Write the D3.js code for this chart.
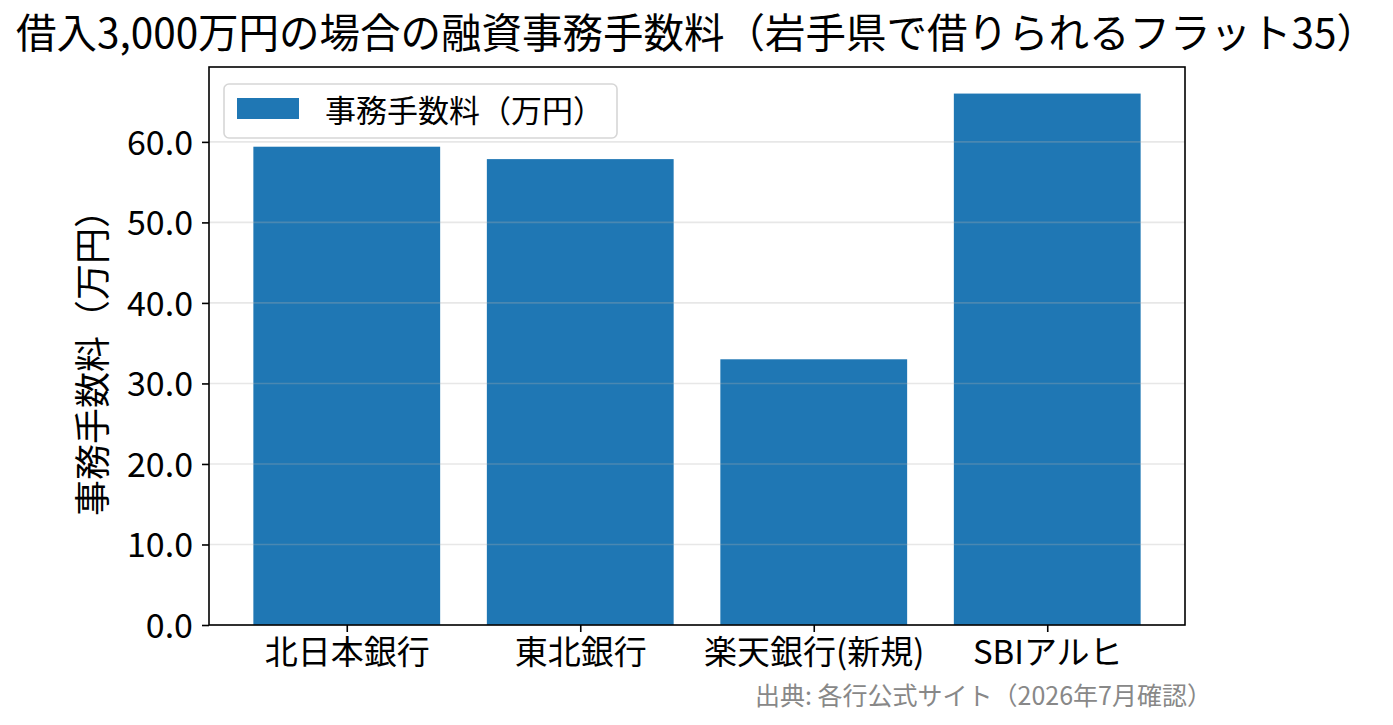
<!DOCTYPE html>
<html>
<head>
<meta charset="utf-8">
<script src="https://cdn.jsdelivr.net/npm/d3@7"></script>
<style>
  body { margin: 0; background: #fff; }
  text { font-family: "Noto Sans CJK JP", "Noto Sans", sans-serif; }
</style>
</head>
<body>
<div id="chart"></div>
<script>
// Chart data
var banks = ["北日本銀行", "東北銀行", "楽天銀行(新規)", "SBIアルヒ"];
var fees = [59.4, 57.86, 33.0, 66.0];
var yTicks = [0, 10, 20, 30, 40, 50, 60];

var titleText = "借入3,000万円の場合の融資事務手数料（岩手県で借りられるフラット35）";
var legendLabel = "事務手数料（万円）";
var yLabel = "事務手数料（万円）";
var sourceText = "出典: 各行公式サイト（2026年7月確認）";

var svgWidth = 1393;
var svgHeight = 725;

var margin = { top: 67, right: 208, bottom: 100, left: 209 };
var width = svgWidth - margin.left - margin.right;
var height = svgHeight - margin.top - margin.bottom;

var svg = d3.select("#chart")
  .append("svg")
  .attr("width", svgWidth)
  .attr("height", svgHeight);

var chartGroup = svg.append("g")
  .attr("transform", `translate(${margin.left}, ${margin.top})`);

// matplotlib-like x range: bars of width 0.8 with 5% margins
var xScale = d3.scaleLinear()
  .domain([-0.59, banks.length - 1 + 0.59])
  .range([0, width]);

var yScale = d3.scaleLinear()
  .domain([0, d3.max(fees) * 1.05])
  .range([height, 0]);

// Bars
chartGroup.selectAll("rect.bar")
  .data(fees)
  .enter()
  .append("rect")
  .attr("class", "bar")
  .attr("x", (d, i) => xScale(i - 0.4))
  .attr("width", (d, i) => xScale(i + 0.4) - xScale(i - 0.4))
  .attr("y", d => yScale(d))
  .attr("height", d => yScale(0) - yScale(d))
  .attr("fill", "#1f77b4");

// Grid lines (drawn above the bars, translucent)
chartGroup.selectAll("line.grid")
  .data(yTicks)
  .enter()
  .append("line")
  .attr("class", "grid")
  .attr("x1", 0)
  .attr("x2", width)
  .attr("y1", d => yScale(d))
  .attr("y2", d => yScale(d))
  .attr("stroke", "#b0b0b0")
  .attr("stroke-opacity", 0.3)
  .attr("stroke-width", 1.6);

// Axes
var bottomAxis = d3.axisBottom(xScale)
  .tickValues(d3.range(banks.length))
  .tickFormat(i => banks[i])
  .tickSize(7)
  .tickPadding(6);

var leftAxis = d3.axisLeft(yScale)
  .tickValues(yTicks)
  .tickFormat(d3.format(".1f"))
  .tickSize(7)
  .tickPadding(9);

var xAxisG = chartGroup.append("g")
  .attr("transform", `translate(0, ${height})`)
  .call(bottomAxis);

var yAxisG = chartGroup.append("g")
  .call(leftAxis);

[xAxisG, yAxisG].forEach(function(g) {
  g.select(".domain").remove();
  g.selectAll(".tick line").attr("stroke", "#000").attr("stroke-width", 1.6);
  g.selectAll(".tick text")
    .attr("fill", "#000")
    .style("font-family", "'Noto Sans CJK JP', sans-serif");
});
xAxisG.selectAll(".tick text").attr("dy", "0.78em").style("font-size", "33px");
yAxisG.selectAll(".tick text").attr("dy", "0.36em").style("font-size", "34px");

// Frame
chartGroup.append("rect")
  .attr("x", 0)
  .attr("y", 0)
  .attr("width", width)
  .attr("height", height)
  .attr("fill", "none")
  .attr("stroke", "#000")
  .attr("stroke-width", 1.6);

// Legend
var legend = chartGroup.append("g")
  .attr("transform", "translate(15, 17)");

legend.append("rect")
  .attr("width", 393)
  .attr("height", 54)
  .attr("rx", 5)
  .attr("fill", "#fff")
  .attr("fill-opacity", 0.8)
  .attr("stroke", "#d6d6d6")
  .attr("stroke-width", 1.6);

legend.append("rect")
  .attr("x", 13)
  .attr("y", 14)
  .attr("width", 62)
  .attr("height", 21)
  .attr("fill", "#1f77b4");

legend.append("text")
  .attr("x", 101)
  .attr("y", 27)
  .attr("dy", "0.35em")
  .style("font-size", "31px")
  .attr("fill", "#000")
  .text(legendLabel);

// Y-axis label
chartGroup.append("text")
  .attr("transform", `translate(${-116}, ${height / 2 + 8}) rotate(-90)`)
  .attr("text-anchor", "middle")
  .attr("dy", "0.35em")
  .style("font-size", "36px")
  .attr("fill", "#000")
  .text(yLabel);

// Title
svg.append("text")
  .attr("x", svgWidth / 2)
  .attr("y", 48)
  .attr("text-anchor", "middle")
  .style("font-size", "40.5px")
  .attr("fill", "#000")
  .text(titleText);

// Source note
svg.append("text")
  .attr("x", 1212)
  .attr("y", 705)
  .attr("text-anchor", "end")
  .style("font-size", "25px")
  .attr("fill", "#888")
  .text(sourceText);
</script>
</body>
</html>
